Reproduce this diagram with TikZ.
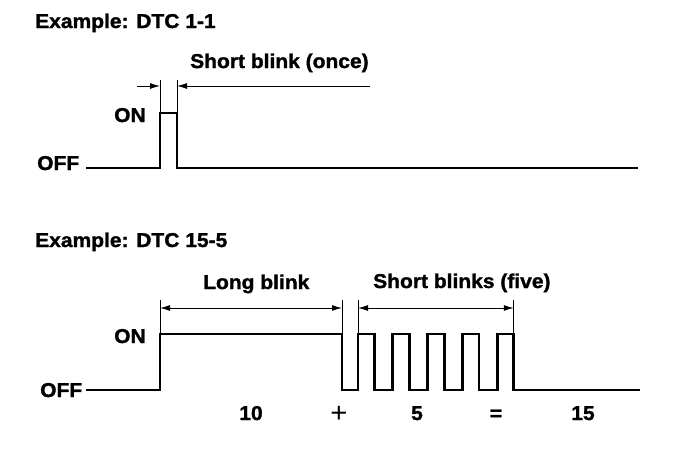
\documentclass[tikz,border=0pt]{standalone}
\usepackage{fontspec}
\setmainfont{Liberation Sans}[FakeStretch=1.05, BoldFeatures={FakeBold=1.4}]
\usetikzlibrary{arrows.meta}

\begin{document}
\begin{tikzpicture}[
    x=1pt, y=-1pt,
    lbl/.style={font=\bfseries\fontsize{20}{24}\selectfont, inner sep=0pt, anchor=base west},
    num/.style={font=\bfseries\fontsize{20}{24}\selectfont, inner sep=0pt, anchor=base},
    sig/.style={line width=2.8pt, line join=miter},
    ext/.style={line width=0.9pt},
    dim/.style={line width=1pt},
    tip/.style={-{Latex[length=10pt,width=6pt]}},
    tips/.style={{Latex[length=10pt,width=6pt]}-{Latex[length=10pt,width=6pt]}},
]
\useasboundingbox (0,0) rectangle (688,448);

% DTC 1-1
\node[lbl] (title1) at (35,28) {Example: DTC 1-1};
\node[lbl] (once) at (190,68) {Short blink (once)};
\node[lbl] (on1) at (114,122) {ON};
\node[lbl] (off1) at (37,170) {OFF};

\draw[sig] (86,168) -- (160,168) -- (160,113) -- (177,113) -- (177,168) -- (638,168);
\draw[ext] (160,80) -- (160,113);
\draw[ext] (177,80) -- (177,113);
\draw[dim,tip] (137,86) -- (160,86);
\draw[dim,tip] (370,86) -- (177,86);

% DTC 15-5
\node[lbl] (title2) at (35,247) {Example: DTC 15-5};
\node[lbl] (long) at (203,289) {Long blink};
\node[lbl] (five) at (373,288) {Short blinks (five)};
\node[lbl] (on2) at (114,343) {ON};
\node[lbl] (off2) at (40,397) {OFF};

\draw[sig] (86,390) -- (160,390) -- (160,334) -- (342,334) -- (342,390) -- (358,390)
    foreach \i in {1,...,5} { -- ++(0,-56) -- ++(16.6,0) -- ++(0,56) -- ++(18.2,0) }
    -- (640,390);
\draw[ext] (160,300) -- (160,334);
\draw[ext] (342,300) -- (342,334);
\draw[ext] (358,300) -- (358,334);
\draw[ext] (513.8,300) -- (513.8,334);
\draw[dim,tips] (160,308) -- (342,308);
\draw[dim,tips] (358,308) -- (513.8,308);

% Sum
\node[num] (ten) at (251,420) {10};
\node[num, font=\fontsize{28}{30}\selectfont] (plus) at (339,422) {+};
\node[num] (five5) at (417,420) {5};
\node[num] (eq) at (496,420) {=};
\node[num] (fifteen) at (583,420) {15};

\end{tikzpicture}
\end{document}
